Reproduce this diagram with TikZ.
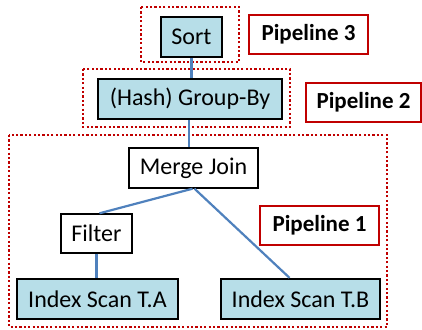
\documentclass[tikz,border=0pt]{standalone}
\usepackage{fontspec}
\setmainfont{Carlito}
\begin{document}
\begin{tikzpicture}[x=1pt,y=-1pt,
  opbox/.style={draw=black,line width=2.4pt,fill=opblue,inner sep=0pt,font=\fontsize{24}{28}\selectfont},
  plainbox/.style={draw=black,line width=1.4pt,fill=white,inner sep=0pt,font=\fontsize{24}{28}\selectfont},
  plabel/.style={draw=pred,line width=1.3pt,fill=white,inner sep=0pt,font=\fontsize{23}{28}\selectfont\bfseries},
  pipe/.style={draw=pred,line width=2.4pt,dash pattern=on 2.2pt off 2.2pt},
  conn/.style={draw=lblue,line width=2.2pt}]
\definecolor{opblue}{HTML}{B7DEE8}
\definecolor{pred}{HTML}{C00000}
\definecolor{lblue}{HTML}{4F81BD}
\useasboundingbox (0,0) rectangle (422,329);
\draw[pipe] (141,7) rectangle (239,62);
\draw[pipe] (83,69) rectangle (290,127);
\draw[pipe] (9,135) rectangle (387,327);
\node[opbox,minimum width=61pt,minimum height=40pt] (sort) at (191.5,37) {Sort};
\node[opbox,minimum width=184pt,minimum height=40pt] (gb) at (190,99) {(Hash) Group-By};
\node[plainbox,minimum width=129pt,minimum height=40pt] (mj) at (193.5,168) {Merge Join};
\node[plainbox,minimum width=71pt,minimum height=39pt] (filter) at (96.5,233.5) {Filter};
\node[opbox,minimum width=161pt,minimum height=40pt] (ta) at (97.5,299) {Index Scan T.A};
\node[opbox,minimum width=159pt,minimum height=40pt] (tb) at (300.5,299) {Index Scan T.B};
\node[plabel,minimum width=119pt,minimum height=39pt] (p3) at (308.5,34.5) {Pipeline 3};
\node[plabel,minimum width=115pt,minimum height=39pt] (p2) at (363.5,102.5) {Pipeline 2};
\node[plabel,minimum width=119pt,minimum height=39pt] (p1) at (319.5,225.5) {Pipeline 1};
\draw[conn] (sort.south) -- (sort.south |- gb.north);
\draw[conn] ([xshift=-1pt]gb.south) -- ([xshift=-1pt]gb.south |- mj.north);
\draw[conn] ([xshift=-1pt]mj.south) -- ([xshift=3pt]filter.north);
\draw[conn] ([xshift=1pt]mj.south) -- ([xshift=-11pt]tb.north);
\draw[conn] (filter.south) -- (filter.south |- ta.north);
\end{tikzpicture}
\end{document}
